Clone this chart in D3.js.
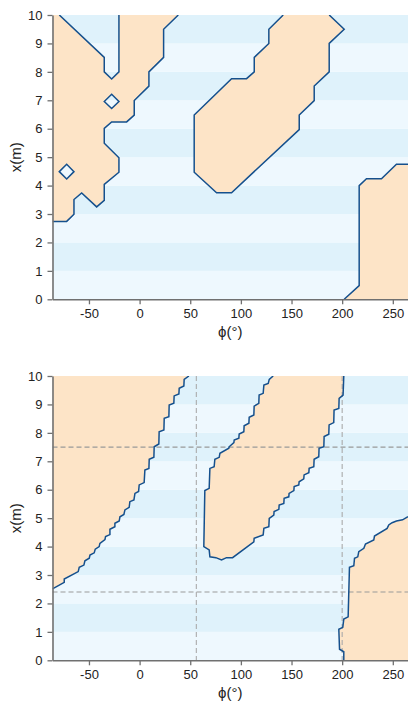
<!DOCTYPE html>
<html>
<head>
<meta charset="utf-8">
<script src="https://cdn.jsdelivr.net/npm/d3@7"></script>
<style>
  html, body { margin: 0; padding: 0; background: #fff; }
  svg { display: block; }
  text { font-family: "Liberation Sans", Arial, Helvetica, sans-serif; }
</style>
</head>
<body>
<svg id="chart" width="408" height="704"></svg>
<script>
// Axis ticks
const phiTicks = [-50, 0, 50, 100, 150, 200, 250];
const xTicks = [0, 1, 2, 3, 4, 5, 6, 7, 8, 9, 10];
const phiRange = [-86, 265];
const xRange = [0, 10];

// Upper panel (coarse grid) — boundaries as [phi, x]
const coarseNotch = [[-79.3,10],[-34.9,8.51],[-34.9,8.0],[-27.6,7.75],[-20.4,8.0],[-20.4,10]];
const coarseLeftBoundary = [[38.2,10],[23.7,9.5],[23.7,8.51],[9.2,8.0],[9.2,7.5],[-5.3,6.99],[-5.3,6.48],
  [-12.8,6.24],[-27.6,6.24],[-34.9,6.01],[-34.9,5.49],[-20.4,4.98],[-20.4,4.47],[-34.9,4.04],[-34.9,3.48],
  [-42.4,3.25],[-57.2,3.74],[-64.8,3.51],[-64.8,2.99],[-72.0,2.74],[-86,2.74]];
const coarseIslandA = [[-34.9,6.96],[-27.6,7.21],[-20.4,6.96],[-27.6,6.71]];
const coarseIslandB = [[-79.3,4.49],[-72.0,4.75],[-64.8,4.49],[-72.0,4.23]];
const coarseMiddle = [[141.8,10],[127.6,9.5],[127.6,9.0],[113.2,8.51],[113.2,8.0],[105.6,7.76],[90.8,7.76],
  [53.9,6.48],[53.9,4.47],[76.0,3.75],[90.8,3.75],[157.6,5.97],[157.6,6.48],[172.4,6.99],[172.4,7.5],
  [187.2,8.0],[187.2,9.0],[202.0,9.5],[187.2,10]];
const coarseRight = [[202.0,0],[216.8,0.48],[216.8,4.0],[224.0,4.24],[238.8,4.24],[253.6,4.75],[265,4.75]];

// Lower panel (fine grid)
const fineLeft = [[-86,2.51],[-74.4,2.74],[-74.4,2.86],[-60.6,3.12],[-59.6,3.27],[-55.0,3.35],[-54.0,3.50],
  [-49.7,3.59],[-49.0,3.70],[-44.8,3.78],[-43.8,3.91],[-39.9,4.00],[-39.2,4.11],[-34.2,4.25],[-33.6,4.35],
  [-29.3,4.42],[-29.3,4.61],[-24.4,4.70],[-24.4,4.82],[-20.1,4.90],[-19.4,5.05],[-15.5,5.13],[-14.5,5.29],
  [-10.3,5.38],[-9.6,5.58],[-5.6,5.64],[-4.6,5.87],[-1.0,5.94],[-0.4,6.17],[4.5,6.25],[5.2,6.69],[9.2,6.75],
  [9.5,7.07],[14.1,7.14],[14.4,7.51],[19.0,7.61],[19.3,8.04],[24.0,8.10],[24.3,8.51],[28.9,8.57],[29.2,8.98],
  [33.8,9.04],[34.1,9.30],[38.8,9.37],[39.1,9.57],[43.7,9.65],[44.0,9.88],[48.7,10]];
const fineMiddle = [[131.9,10],[128.0,9.88],[127.0,9.74],[122.7,9.68],[122.0,9.39],[118.0,9.33],[117.7,9.04],
  [113.1,8.94],[112.8,8.63],[108.2,8.55],[107.9,8.34],[103.2,8.25],[102.9,8.04],[98.3,7.96],[98.0,7.81],
  [93.4,7.75],[93.1,7.66],[88.4,7.51],[88.1,7.46],[79.3,7.28],[78.6,7.14],[74.3,7.07],[73.6,6.81],[69.4,6.75],
  [68.7,6.05],[64.4,5.97],[63.4,4.00],[68.7,3.88],[69.4,3.64],[75.3,3.61],[80.9,3.53],[85.8,3.61],[91.8,3.61],
  [112.8,4.17],[113.1,4.29],[122.0,4.41],[122.7,4.64],[127.6,4.70],[128.0,4.99],[132.5,5.11],[132.8,5.23],
  [137.5,5.31],[137.8,5.46],[142.4,5.52],[142.7,5.70],[147.3,5.75],[147.6,5.87],[152.3,5.97],[152.6,6.11],
  [157.2,6.17],[157.5,6.28],[162.1,6.38],[162.4,6.52],[167.1,6.60],[167.4,6.75],[172.0,6.81],[172.3,7.07],
  [176.9,7.16],[177.2,7.46],[181.9,7.51],[182.2,7.87],[186.8,7.95],[187.1,8.28],[191.7,8.36],[192.0,8.80],
  [196.7,8.86],[197.0,9.21],[200.9,9.33],[201.6,10]];
const fineRight = [[201.6,0],[201.6,0.30],[197.4,0.39],[196.7,1.09],[200.6,1.16],[201.6,1.45],[205.9,1.53],
  [207.2,3.27],[211.5,3.33],[212.2,3.59],[215.4,3.64],[216.4,3.82],[221.4,3.94],[223.0,4.09],[231.2,4.23],
  [231.9,4.37],[244.4,4.64],[246.0,4.76],[249.3,4.84],[253.6,4.90],[259.6,4.94],[265,5.05]];

// Reference lines in the lower panel
const refPhi = [56, 200];
const refX = [2.4, 7.5];

const COLORS = {
  bandDark: "#dff2fb",
  bandLight: "#eef8fe",
  region: "#fde4c7",
  contour: "#15508d",
  axis: "#707070",
  ref: "#999999",
  text: "#222"
};

const svg = d3.select("#chart");

const panels = [
  {
    top: 15, bottom: 299.3,
    regions: [
      { fill: [[[-86,10], ...coarseNotch, ...coarseLeftBoundary], coarseIslandA, coarseIslandB],
        lines: [coarseNotch, coarseLeftBoundary], closed: [coarseIslandA, coarseIslandB] },
      { fill: [coarseMiddle], lines: [coarseMiddle], closed: [] },
      { fill: [[...coarseRight, [265,0]]], lines: [coarseRight], closed: [] }
    ],
    refs: false
  },
  {
    top: 376, bottom: 660.3,
    regions: [
      { fill: [[...fineLeft, [-86,10]]], lines: [fineLeft], closed: [] },
      { fill: [fineMiddle], lines: [fineMiddle], closed: [] },
      { fill: [[...fineRight, [265,0]]], lines: [fineRight], closed: [] }
    ],
    refs: true
  }
];

const left = 52.5, right = 408;
const xScale = d3.scaleLinear().domain(phiRange).range([left, right]);
const plainNumber = d => String(d);   // hyphen-minus for negatives

panels.forEach((p, i) => {
  const yScale = d3.scaleLinear().domain(xRange).range([p.bottom, p.top]);
  const g = svg.append("g");
  const clipId = "clip" + i;
  svg.append("clipPath").attr("id", clipId)
    .append("rect").attr("x", left).attr("y", p.top)
    .attr("width", right - left).attr("height", p.bottom - p.top);

  const plot = g.append("g").attr("clip-path", `url(#${clipId})`);

  // horizontal bands
  const bands = d3.range(xRange[0], xRange[1]);
  plot.selectAll("rect.band").data(bands).join("rect")
    .attr("class", "band")
    .attr("x", left).attr("width", right - left)
    .attr("y", d => yScale(d + 1))
    .attr("height", d => yScale(d) - yScale(d + 1))
    .attr("fill", d => (d % 2 === 1 ? COLORS.bandDark : COLORS.bandLight));

  const line = d3.line().x(d => xScale(d[0])).y(d => yScale(d[1]));

  // filled regions
  p.regions.forEach(r => {
    const dPath = r.fill.map(ring => line(ring) + "Z").join("");
    plot.append("path").attr("d", dPath)
      .attr("fill", COLORS.region).attr("fill-rule", "evenodd").attr("stroke", "none");
  });

  // reference lines
  if (p.refs) {
    plot.selectAll("line.rx").data(refX).join("line")
      .attr("x1", left).attr("x2", right)
      .attr("y1", d => yScale(d)).attr("y2", d => yScale(d))
      .attr("stroke", COLORS.ref).attr("stroke-width", 1.1).attr("stroke-dasharray", "5,3");
    plot.selectAll("line.rp").data(refPhi).join("line")
      .attr("y1", p.top).attr("y2", p.bottom)
      .attr("x1", d => xScale(d)).attr("x2", d => xScale(d))
      .attr("stroke", "#aaaaaa").attr("stroke-width", 1.1).attr("stroke-dasharray", "5,3");
  }

  // contour lines
  p.regions.forEach(r => {
    r.lines.forEach(l => {
      plot.append("path").attr("d", line(l)).attr("fill", "none")
        .attr("stroke", COLORS.contour).attr("stroke-width", 1.5).attr("stroke-linejoin", "miter");
    });
    r.closed.forEach(l => {
      plot.append("path").attr("d", line(l) + "Z").attr("fill", "none")
        .attr("stroke", COLORS.contour).attr("stroke-width", 1.5);
    });
  });

  // axes
  const yAxis = d3.axisLeft(yScale).tickValues(xTicks).tickFormat(plainNumber)
    .tickSize(5).tickPadding(5).tickSizeOuter(0);
  const xAxis = d3.axisBottom(xScale).tickValues(phiTicks).tickFormat(plainNumber)
    .tickSize(5).tickPadding(4).tickSizeOuter(0);

  const ya = g.append("g").attr("transform", `translate(${left},0)`).call(yAxis);
  const xa = g.append("g").attr("transform", `translate(0,${p.bottom})`).call(xAxis);
  [ya, xa].forEach(a => {
    a.select(".domain").attr("stroke", COLORS.axis).attr("stroke-width", 1.6);
    a.selectAll(".tick line").attr("stroke", COLORS.axis).attr("stroke-width", 1.3);
    a.selectAll(".tick text").attr("fill", COLORS.text)
      .style("font-size", "13px").style("font-family", "'Liberation Sans', Arial, sans-serif");
  });

  // axis titles
  g.append("text")
    .attr("transform", `translate(21,${(p.top + p.bottom) / 2}) rotate(-90)`)
    .attr("text-anchor", "middle")
    .attr("fill", COLORS.text)
    .style("font-size", "15px")
    .text("x(m)");
  g.append("text")
    .attr("x", (left + right) / 2).attr("y", p.bottom + 38)
    .attr("text-anchor", "middle")
    .attr("fill", COLORS.text)
    .style("font-size", "15px")
    .text("ϕ(°)");
});
</script>
</body>
</html>
